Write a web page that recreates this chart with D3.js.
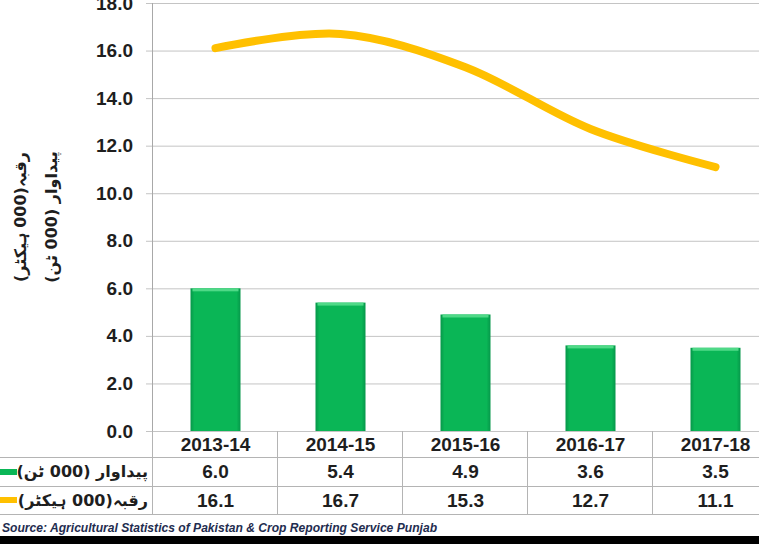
<!DOCTYPE html>
<html>
<head>
<meta charset="utf-8">
<script src="https://cdn.jsdelivr.net/npm/d3@7"></script>
<style>
  html, body { margin: 0; padding: 0; background: #fff; }
  svg { display: block; }
</style>
</head>
<body>
<svg id="chart" width="759" height="544"></svg>
<script>
// Punjab crop: production and area, 2013-14 to 2017-18
const categories = ["2013-14", "2014-15", "2015-16", "2016-17", "2017-18"];
const production = [6.0, 5.4, 4.9, 3.6, 3.5];     // پیداوار (000 ٹن)
const area = [16.1, 16.7, 15.3, 12.7, 11.1];       // رقبہ (000 ہیکٹر)
const yTicks = [0, 2, 4, 6, 8, 10, 12, 14, 16, 18];
const productionLabel = "پیداوار (000 ٹن)";
const areaLabel = "رقبہ(000 ہیکٹر)";
const sourceText = "Source: Agricultural Statistics of Pakistan & Crop Reporting Service Punjab";

const W = 759, H = 544;
const plot = { left: 153, right: 778, top: 3, bottom: 431 };
const rows = [431, 457, 486, 514];   // table row boundaries
const numFont = "'Liberation Sans', Arial, sans-serif";
const urduFont = "'DejaVu Sans', sans-serif";

const svg = d3.select("#chart");

const defs = svg.append("defs");
const barGrad = defs.append("linearGradient").attr("id", "barGrad")
  .attr("x1", 0).attr("x2", 1).attr("y1", 0).attr("y2", 0);
barGrad.append("stop").attr("offset", "0%").attr("stop-color", "#06974a");
barGrad.append("stop").attr("offset", "8%").attr("stop-color", "#0ab656");
barGrad.append("stop").attr("offset", "92%").attr("stop-color", "#0ab656");
barGrad.append("stop").attr("offset", "100%").attr("stop-color", "#06974a");

const x = d3.scaleBand().domain(categories).range([plot.left, plot.right]).padding(0);
const y = d3.scaleLinear().domain([0, 18]).range([plot.bottom, plot.top]);

// horizontal gridlines and y axis
const yAxis = d3.axisLeft(y).tickValues(yTicks).tickFormat(d3.format(".1f"))
  .tickSize(-(W - plot.left)).tickPadding(20);
const gy = svg.append("g").attr("transform", `translate(${plot.left},0)`).call(yAxis);
gy.select(".domain").remove();
gy.selectAll(".tick line").attr("stroke", "#c4c4c4").attr("x1", -7);
gy.selectAll(".tick text")
  .attr("font-family", numFont).attr("font-weight", "bold")
  .attr("font-size", 19).attr("fill", "#1e1e1e");
svg.append("line").attr("x1", plot.left - 0.5).attr("x2", plot.left - 0.5)
  .attr("y1", plot.top).attr("y2", rows[3]).attr("stroke", "#a8a8a8");

// bars
const barW = x.bandwidth() * 0.4;
const bars = svg.append("g");
bars.selectAll("rect.bar").data(categories).join("rect").attr("class", "bar")
  .attr("x", d => x(d) + x.bandwidth() / 2 - barW / 2)
  .attr("width", barW)
  .attr("y", (d, i) => y(production[i]))
  .attr("height", (d, i) => y(0) - y(production[i]))
  .attr("fill", "url(#barGrad)");
bars.selectAll("rect.hl").data(categories).join("rect").attr("class", "hl")
  .attr("x", d => x(d) + x.bandwidth() / 2 - barW / 2 + 2)
  .attr("width", barW - 4)
  .attr("y", (d, i) => y(production[i]))
  .attr("height", 3)
  .attr("fill", "#4fd987");

// smoothed area line
const line = d3.line()
  .x((d, i) => x(categories[i]) + x.bandwidth() / 2)
  .y(d => y(d))
  .curve(d3.curveCatmullRom.alpha(0));
svg.append("path").datum(area).attr("d", line)
  .attr("fill", "none").attr("stroke", "#ffc000")
  .attr("stroke-width", 8).attr("stroke-linecap", "round").attr("stroke-linejoin", "round");

// data table
const table = svg.append("g");
rows.slice(1).forEach(r => {
  table.append("line").attr("x1", 0).attr("x2", W).attr("y1", r + 0.5).attr("y2", r + 0.5)
    .attr("stroke", "#b4b4b4");
});
categories.forEach(c => {
  table.append("line").attr("x1", x(c) - 0.5).attr("x2", x(c) - 0.5)
    .attr("y1", rows[0]).attr("y2", rows[3]).attr("stroke", "#b4b4b4");
});
const cellY = i => (rows[i] + rows[i + 1]) / 2;
const rowData = [categories, production.map(d3.format(".1f")), area.map(d3.format(".1f"))];
rowData.forEach((vals, ri) => {
  table.selectAll(null).data(vals).join("text")
    .attr("x", (d, i) => x(categories[i]) + x.bandwidth() / 2)
    .attr("y", cellY(ri))
    .attr("dy", "0.36em")
    .attr("text-anchor", "middle")
    .attr("font-family", numFont).attr("font-weight", "bold")
    .attr("font-size", 19).attr("fill", "#1e1e1e")
    .text(d => d);
});

// legend keys in the table
table.append("rect").attr("x", 0).attr("y", cellY(1) - 2.5).attr("width", 17).attr("height", 6)
  .attr("fill", "#0ab656");
table.append("rect").attr("x", 0).attr("y", cellY(2) - 3).attr("width", 17).attr("height", 6)
  .attr("fill", "#ffc000");
[productionLabel, areaLabel].forEach((t, i) => {
  table.append("text")
    .attr("x", 148).attr("y", cellY(i + 1)).attr("dy", "0.35em")
    .attr("text-anchor", "end")
    .attr("font-family", urduFont).attr("font-weight", "bold")
    .attr("font-size", 16).attr("fill", "#1e1e1e")
    .text(t);
});

// y axis title (two lines)
[areaLabel, productionLabel].forEach((t, i) => {
  svg.append("text")
    .attr("transform", `translate(${20 + i * 31},217) rotate(-90)`)
    .attr("text-anchor", "middle").attr("dy", "0.35em")
    .attr("font-family", urduFont).attr("font-weight", "bold")
    .attr("font-size", 16).attr("fill", "#1e1e1e")
    .text(t);
});

// source note
svg.append("text").attr("x", 2).attr("y", 532)
  .attr("font-family", numFont).attr("font-weight", "bold").attr("font-style", "italic")
  .attr("font-size", 12.1).attr("fill", "#1f2d50")
  .text(sourceText);

// bottom band
svg.append("rect").attr("x", 0).attr("y", 536).attr("width", W).attr("height", H - 536)
  .attr("fill", "#000");
</script>
</body>
</html>
